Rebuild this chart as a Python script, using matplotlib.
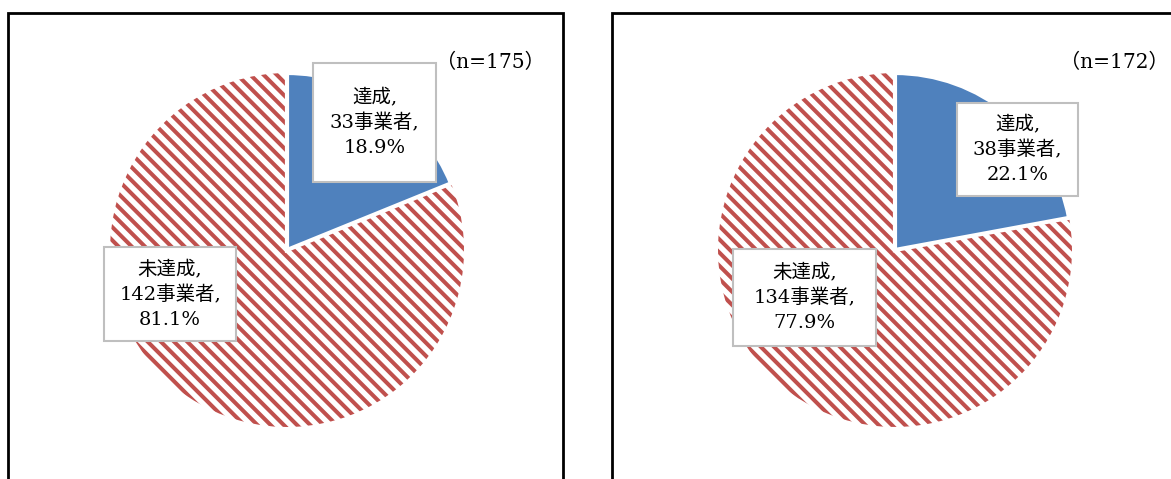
import numpy as np
import matplotlib.pyplot as plt
from matplotlib.patches import Rectangle

W, H = 1171, 479

categories = ['達成', '未達成']
counts_left = [33, 142]
counts_right = [38, 134]
n_labels = ['（n=175）', '（n=172）']

colors = ['#4F81BD', '#C0504D']
font = ['DejaVu Serif', 'Noto Sans CJK JP']

fig = plt.figure(figsize=(W / 100, H / 100), dpi=100)


def px_box(x0, y0, x1, y1):
    # pixel box (top-left origin) -> figure fraction
    return x0 / W, (H - y1) / H, (x1 - x0) / W, (y1 - y0) / H


# panel frames
for x0, x1 in [(8, 563), (612, 1190)]:
    fl, fb, fw, fh = px_box(x0, 13, x1, 520)
    fig.add_artist(Rectangle((fl, fb), fw, fh, transform=fig.transFigure,
                             fill=False, edgecolor='black', linewidth=2))

pies = [
    (counts_left, (287, 250), [(313, 63, 436, 182), (104, 247, 236, 341)], (490, 62), n_labels[0]),
    (counts_right, (895, 250), [(957, 103, 1078, 196), (733, 249, 876, 346)], (1114, 62), n_labels[1]),
]

R = 177
step = 13.2 / R  # stripe spacing (horizontal) in data units
for counts, (cx, cy), boxes, (nx, ny), ntxt in pies:
    ax = fig.add_axes(px_box(cx - R, cy - R, cx + R, cy + R))
    total = sum(counts)
    wedges, _ = ax.pie(counts, startangle=90, counterclock=False, radius=1,
                       colors=colors)
    # not achieved: white with diagonal red stripes
    red = wedges[1]
    red.set_facecolor('white')
    red.set_linewidth(0)
    red.set_zorder(1)
    for c in np.arange(-2.2, 2.2, step):
        ln, = ax.plot([-1.1, 1.1], [c + 1.1, c - 1.1], color=colors[1],
                      linewidth=2.9, solid_capstyle='butt', zorder=1.5)
        ln.set_clip_path(red)
    blue = wedges[0]
    blue.set_edgecolor('white')
    blue.set_linewidth(3)
    blue.set_zorder(2)
    ax.set_xlim(-1, 1)
    ax.set_ylim(-1, 1)
    ax.axis('off')

    for cat, c, (x0, y0, x1, y1) in zip(categories, counts, boxes):
        fl, fb, fw, fh = px_box(x0, y0, x1, y1)
        fig.add_artist(Rectangle((fl, fb), fw, fh, transform=fig.transFigure,
                                 facecolor='white', edgecolor='#BFBFBF',
                                 linewidth=1.5, zorder=5))
        txt = f'{cat},\n{c}事業者,\n{c / total * 100:.1f}%'
        fig.text(fl + fw / 2, fb + fh / 2, txt, ha='center', va='center',
                 fontsize=14, family=font, linespacing=1.45, zorder=6)

    fig.text(nx / W, (H - ny) / H, ntxt, ha='center', va='center',
             fontsize=14.5, family=font)

fig.savefig('out.png', dpi=100, facecolor='white')
